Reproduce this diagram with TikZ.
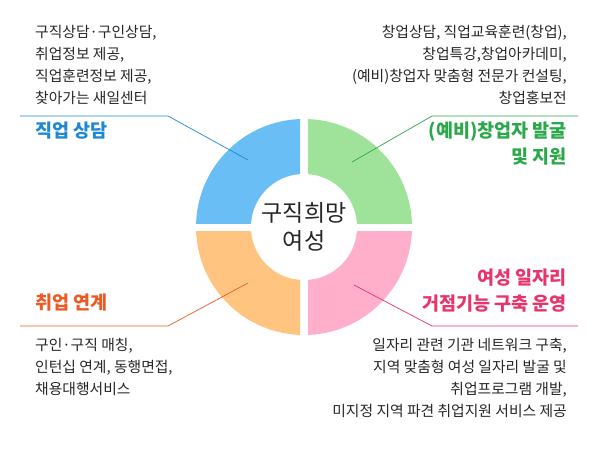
\documentclass[tikz,border=0pt]{standalone}
\usepackage{fontspec}
\newfontfamily\kr{Noto Sans CJK KR}
\usepackage{tikz}
\usetikzlibrary{positioning}
\definecolor{qblue}{HTML}{6ABEF6}
\definecolor{qgreen}{HTML}{9FE39B}
\definecolor{qorange}{HTML}{FFC580}
\definecolor{qpink}{HTML}{FFAFC9}
\definecolor{tblue}{HTML}{1E88D2}
\definecolor{tgreen}{HTML}{2AA84A}
\definecolor{torange}{HTML}{EE5A24}
\definecolor{tpink}{HTML}{E8336B}
\tikzset{
  body/.style={font=\kr\fontsize{14.8}{22}\selectfont, text=black!85, inner sep=0pt},
  title/.style={font=\kr\bfseries\fontsize{18.5}{26}\selectfont, inner sep=0pt},
  leader/.style={line width=0.7pt}
}
\begin{document}
\begin{tikzpicture}[x=1pt, y=-1pt]
      \useasboundingbox (0,0) rectangle (600,452);
      \coordinate (O) at (304,227);

      % quadrants
      \begin{scope} \clip (196,119) rectangle (300,223); \fill[qblue] (O) circle[radius=108]; \end{scope}
      \begin{scope} \clip (308,119) rectangle (412,223); \fill[qgreen] (O) circle[radius=108]; \end{scope}
      \begin{scope} \clip (308,231) rectangle (412,335); \fill[qpink] (O) circle[radius=108]; \end{scope}
      \begin{scope} \clip (196,231) rectangle (300,335); \fill[qorange] (O) circle[radius=108]; \end{scope}
      \fill[white] (O) circle[radius=53];

      \node[font=\kr\fontsize{23}{28}\selectfont, align=center, text=black!85] (C) at (O) {구직희망\\여성};

      % corner texts
      \node[body, align=left, anchor=north west]  (TLb) at (35,25)  {구직상담·구인상담,\\취업정보 제공,\\직업훈련정보 제공,\\ 찾아가는 새일센터};
      \node[body, align=right, anchor=north east] (TRb) at (567,25) {창업상담, 직업교육훈련(창업),\\창업특강,창업아카데미,\\(예비)창업자 맞춤형 전문가 컨설팅,\\창업홍보전};
      \node[body, align=left, anchor=north west]  (BLb) at (35,338) {구인·구직 매칭,\\인턴십 연계, 동행면접,\\채용대행서비스};
      \node[body, align=right, anchor=north east] (BRb) at (567,338) {일자리 관련 기관 네트워크 구축,\\지역 맞춤형 여성 일자리 발굴 및\\취업프로그램 개발,\\미지정 지역 파견 취업지원 서비스 제공};

      % titles
      \node[title, text=tblue, anchor=west]  (TLt) at (35,131)  {직업 상담};
      \node[title, text=tgreen, anchor=east, align=right] (TRt) at (567,144) {(예비)창업자 발굴\\및 지원};
      \node[title, text=torange, anchor=west] (BLt) at (35,303) {취업 연계};
      \node[title, text=tpink, anchor=east, align=right] (BRt) at (567,291) {여성 일자리\\거점기능 구축 운영};

      % leaders
      \coordinate (L1) at (20,116);  \coordinate (K1) at (168,116); \coordinate (E1) at (248,160);
      \coordinate (L2) at (578,116); \coordinate (K2) at (432,116); \coordinate (E2) at (352,162);
      \coordinate (L3) at (20,326);  \coordinate (K3) at (168,326); \coordinate (E3) at (248,283);
      \coordinate (L4) at (578,326); \coordinate (K4) at (432,326); \coordinate (E4) at (354,285);
      \draw[leader, tblue]   (L1) -- (K1) -- (E1);
      \draw[leader, tgreen]  (L2) -- (K2) -- (E2);
      \draw[leader, torange] (L3) -- (K3) -- (E3);
      \draw[leader, tpink]   (L4) -- (K4) -- (E4);
\end{tikzpicture}
\end{document}
